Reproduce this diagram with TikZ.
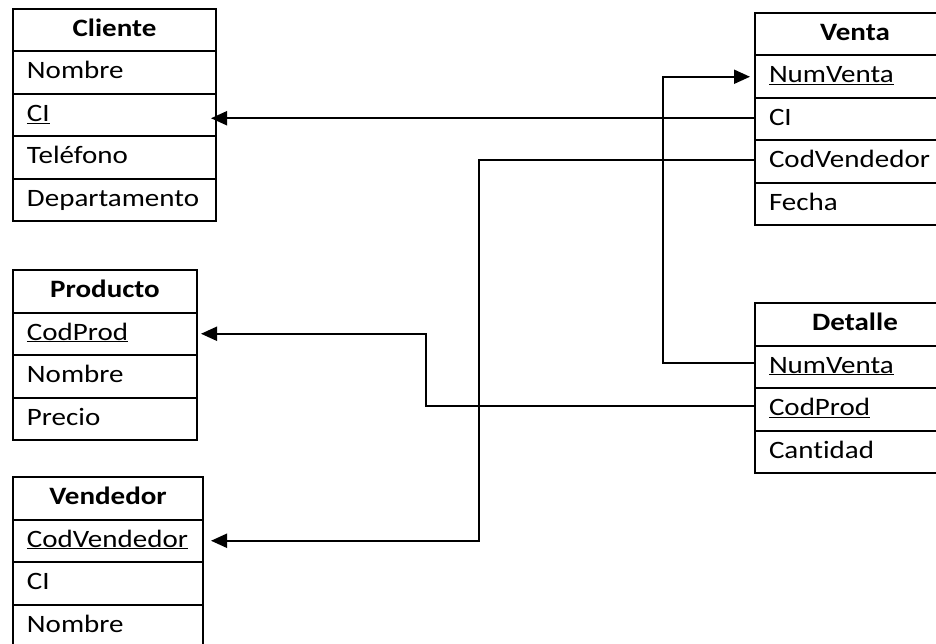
\documentclass[tikz,border=0pt]{standalone}
\usepackage{fontspec}
\setmainfont[FakeStretch=1.16, Ligatures=NoCommon]{Carlito}
\usetikzlibrary{arrows.meta}
\hyphenpenalty=10000
\hbadness=10000
\hfuzz=20pt
\begin{document}
\begin{tikzpicture}[x=1pt,y=-1pt,
  tbl/.style={draw, line width=2pt, anchor=north west, minimum height=42.5pt,
    inner xsep=14pt, inner ysep=0pt, text height=17.5pt, text depth=5pt,
    align=left, font=\fontsize{25}{30}\selectfont},
  hdr/.style={tbl, align=center, font=\fontsize{25}{30}\selectfont\bfseries},
  wC/.style={text width=175pt},
  wV/.style={text width=172pt},
  wP/.style={text width=156pt},
  wS/.style={text width=162pt},
  conn/.style={line width=2pt},
  arr/.style={conn, -{Triangle[length=16pt,width=14pt]}}
]
\clip (0,0) rectangle (936,644);
% Cliente
\node[hdr,wC] (cli-h)   at (12,8)     {Cliente};
\node[tbl,wC] (cli-nom) at (12,50.5)  {Nombre};
\node[tbl,wC] (cli-ci)  at (12,93)    {\underline{CI}};
\node[tbl,wC] (cli-tel) at (12,135.5) {Teléfono};
\node[tbl,wC] (cli-dep) at (12,178)   {Departamento};
% Venta
\node[hdr,wV] (ven-h)   at (754,12)    {Venta};
\node[tbl,wV] (ven-num) at (754,54.5)  {\underline{NumVenta}};
\node[tbl,wV] (ven-ci)  at (754,97)    {CI};
\node[tbl,wV] (ven-cod) at (754,139.5) {CodVendedor};
\node[tbl,wV] (ven-fec) at (754,182)   {Fecha};
% Producto
\node[hdr,wP] (pro-h)   at (12,269)   {Producto};
\node[tbl,wP] (pro-cod) at (12,311.5) {\underline{CodProd}};
\node[tbl,wP] (pro-nom) at (12,354)   {Nombre};
\node[tbl,wP] (pro-pre) at (12,396.5) {Precio};
% Detalle
\node[hdr,wV] (det-h)   at (754,302)   {Detalle};
\node[tbl,wV] (det-num) at (754,344.5) {\underline{NumVenta}};
\node[tbl,wV] (det-cod) at (754,387)   {\underline{CodProd}};
\node[tbl,wV] (det-can) at (754,429.5) {Cantidad};
% Vendedor
\node[hdr,wS] (vnd-h)   at (12,476)   {Vendedor};
\node[tbl,wS] (vnd-cod) at (12,518.5) {\underline{CodVendedor}};
\node[tbl,wS] (vnd-ci)  at (12,561)   {CI};
\node[tbl,wS] (vnd-nom) at (12,603.5) {Nombre};
% connectors
\path ([yshift=1pt]ven-ci.west) coordinate (s1);
\coordinate (t1) at (s1 -| cli-ci.east);
\draw[arr] (s1) -- ([xshift=-6pt]t1);
\draw[arr] ([yshift=4pt]det-num.west) -- ++(-91,0) |- ([xshift=-4pt]ven-num.west);
\draw[arr] ([yshift=2pt]ven-cod.west) -- ++(-275,0) |- ([xshift=7pt]vnd-cod.east);
\draw[arr] ([yshift=3pt]det-cod.west) -- ++(-328,0) |- ([xshift=3pt]pro-cod.east);
\end{tikzpicture}
\end{document}
